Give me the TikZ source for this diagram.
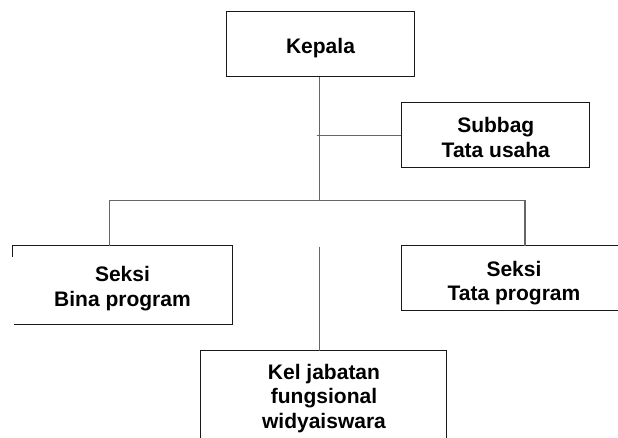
\documentclass[tikz,border=0pt]{standalone}
\usepackage{fontspec}
\setmainfont{Liberation Sans}
\begin{document}
\begin{tikzpicture}[x=1pt,y=-1pt,
  boxline/.style={draw=black!90, line width=1pt},
  conn/.style={draw=black!60, line width=1.2pt},
  lbl/.style={font=\bfseries\fontsize{21}{24.5}\selectfont, align=center, inner sep=0pt},
  orgbox/.style={boxline, inner sep=0pt}]
\useasboundingbox (0,0) rectangle (618,438);
% full boxes
\node[orgbox, minimum width=188pt, minimum height=65pt] (kepala) at (320,44.5) {};
\node[orgbox, minimum width=188.3pt, minimum height=65pt] (subbag) at (495.8,135.5) {};
% texts
\node[lbl] (kepalaT) at (320.5,48.5) {Kepala};
\node[lbl] (subbagT) at (495.8,137.5) {Subbag\\Tata usaha};
\node[lbl] (bina) at (122.5,288.5) {Seksi\\Bina program};
\node[lbl] (tata) at (514,283) {Seksi\\Tata program};
\node[lbl] (kel) at (324,398.5) {Kel jabatan\\fungsional\\widyaiswara};
% edges of partial boxes
\coordinate (binaTL) at (12,246);
\coordinate (binaTR) at (232,246);
\coordinate (binaBR) at (232,324.3);
\coordinate (binaBL) at (14,324.3);
\draw[boxline] (12,256.7) -- (binaTL) -- (binaTR) -- (binaBR) -- (binaBL);
\coordinate (tataTL) at (401.7,246);
\coordinate (tataBL) at (401.7,310.7);
\draw[boxline] (618,246) -- (tataTL) -- (tataBL) -- (618,310.7);
\coordinate (kelTL) at (200.7,350.7);
\coordinate (kelTR) at (446.6,350.7);
\draw[boxline] (200.7,438) -- (kelTL) -- (kelTR) -- (446.6,438);
% connectors
\coordinate (jbar) at (319.3,200.5);
\coordinate (jsub) at (316.7,135.7);
\coordinate (barL) at (109.3,200.5);
\coordinate (barR) at (525,200.5);
\coordinate (centerTop) at (319.3,246.7);
\draw[conn] (kepala.south -| jbar) -- (jbar);
\draw[conn] (jsub) -- (jsub -| subbag.west);
\draw[conn] (barL |- binaTL) -- (barL) -- (barR) -- (barR |- tataTL);
\draw[conn] (centerTop) -- (centerTop |- kelTL);
\end{tikzpicture}
\end{document}
